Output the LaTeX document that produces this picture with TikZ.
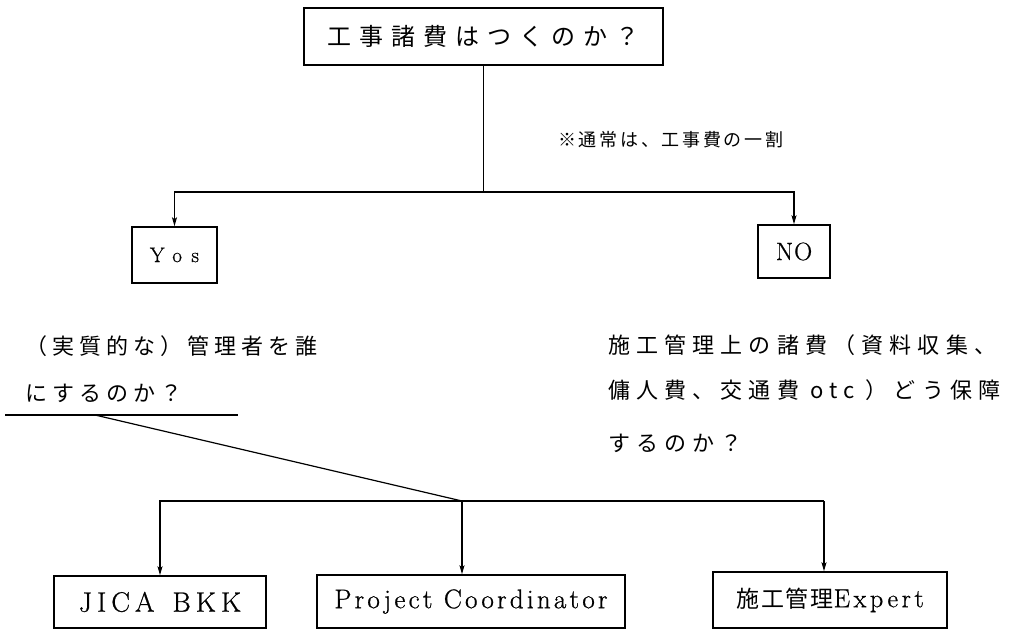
\documentclass[tikz,border=0pt]{standalone}
\usepackage{fontspec}
\newfontfamily\jp{Noto Sans CJK JP}
\newfontfamily\lmr{Latin Modern Roman}
\usetikzlibrary{arrows.meta,calc}
\tikzset{
  box/.style={draw, rectangle, line width=1.5pt, inner sep=0pt},
  conn/.style={line width=1.2pt},
  arr/.style={conn, -{Stealth[length=9pt,width=5pt,inset=2pt]}},
  txt/.style={anchor=west, inner sep=0pt},
}
\newcommand{\jpf}[2]{\jp\fontsize{#1}{#1}\selectfont\addfontfeature{LetterSpace=#2}}
\newcommand{\lmf}[2]{\lmr\fontsize{#1}{#1}\selectfont\addfontfeature{LetterSpace=#2,FakeBold=0.8}}
\begin{document}
\begin{tikzpicture}[x=1pt,y=-1pt]
\useasboundingbox (0,0) rectangle (1013,631);
% top question
\node[box, minimum width=359pt, minimum height=57pt] (top) at (483.5,36.5)
  {\jpf{24}{33}工事諸費はつくのか？};
\node[txt] (note) at (558,140) {\jpf{18}{15}※通常は、工事費の一割};
% yes / no
\node[box, minimum width=85pt, minimum height=56pt] (yes) at (174.5,255)
  {\lmf{21}{45}Yos};
\node[box, minimum width=72pt, minimum height=53pt] (no) at (794,251.5)
  {\lmf{25}{4}NO};
\coordinate (s1) at (483.5,192);
\draw[conn] (top.south) -- (s1);
\draw[arr] (s1) -| (yes.north);
\draw[arr] (s1) -| (no.north);
% left text
\node[txt] (l1) at (25,346) {\jpf{22}{23}（実質的な）管理者を誰};
\node[txt] (l2) at (25,393) {\jpf{22}{23}にするのか？};
\coordinate (u1) at (5,415);
\coordinate (u2) at (238,415);
\coordinate (d0) at (95,415);
\draw[conn] (u1) -- (u2);
% right text
\node[txt] (r1) at (608,345) {\jpf{22}{28}施工管理上の諸費（資料収集、};
\node[txt] (r2) at (608,390) {\jpf{22}{28}傭人費、交通費 otc ）どう保障};
\node[txt] (r3) at (608,443) {\jpf{22}{28}するのか？};
% bottom boxes
\node[box, minimum width=212pt, minimum height=52pt] (jica) at (160,602)
  {\lmf{28}{18}JICA\hspace{18pt}BKK};
\node[box, minimum width=308pt, minimum height=53pt] (proj) at (471,601.5)
  {\lmf{27}{12}Project Coordinator};
\node[box, minimum width=234pt, minimum height=56pt] (expt) at (830,600)
  {\jpf{23}{8}施工管理\lmf{26}{14}Expert};
\coordinate (s2) at (462,501);
\coordinate (e2) at (824,501);
\draw[conn] (d0) -- (s2);
\draw[arr] (s2) -| (jica.north);
\draw[arr] (s2) -- (s2 |- proj.north);
\draw[conn] (s2) -- (e2);
\draw[arr] (e2) -- (e2 |- expt.north);
\end{tikzpicture}
\end{document}
